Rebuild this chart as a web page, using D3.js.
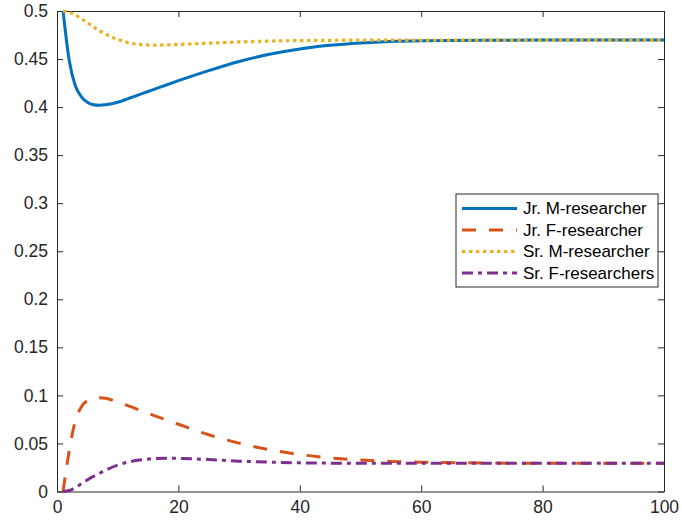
<!DOCTYPE html>
<html>
<head>
<meta charset="utf-8">
<script src="https://cdn.jsdelivr.net/npm/d3@7"></script>
<style>
  body { margin: 0; background: #fff; }
  svg { display: block; font-family: "Liberation Sans", Arial, sans-serif; }
</style>
</head>
<body>
<div id="chart"></div>
<script>
// time steps
const steps = [1, 2, 3, 4, 5, 6, 7, 8, 10, 12, 14, 16, 18, 20, 25, 30, 35, 40, 45, 50, 55, 60, 70, 80, 90, 100];

// series
const jrM = [0.5, 0.449, 0.4225, 0.411, 0.405, 0.4025, 0.402, 0.4025, 0.405, 0.4095, 0.414, 0.4185, 0.423, 0.4275,
  0.438, 0.4475, 0.455, 0.4605, 0.4643, 0.4668, 0.4683, 0.469, 0.4695, 0.4697, 0.4697, 0.4697];
const jrF = [0, 0.042, 0.073, 0.088, 0.0945, 0.097, 0.0975, 0.097, 0.093, 0.0885, 0.0837, 0.079, 0.0745, 0.07,
  0.059, 0.0503, 0.0435, 0.0385, 0.035, 0.0327, 0.0313, 0.0305, 0.0297, 0.0294, 0.0293, 0.0293];
const srM = [0.5, 0.4985, 0.496, 0.492, 0.488, 0.4835, 0.4795, 0.476, 0.4705, 0.4667, 0.465, 0.4645, 0.4647, 0.4652,
  0.4665, 0.4678, 0.4687, 0.4692, 0.4695, 0.4697, 0.4697, 0.4697, 0.4697, 0.4697, 0.4697, 0.4697];
const srF = [0, 0.001, 0.004, 0.008, 0.012, 0.0157, 0.019, 0.0222, 0.0275, 0.031, 0.033, 0.0343, 0.0347, 0.0345,
  0.0333, 0.0316, 0.0305, 0.0298, 0.0295, 0.0294, 0.0293, 0.0293, 0.0293, 0.0293, 0.0293, 0.0293];

const seriesNames = ['Jr. M-researcher', 'Jr. F-researcher', 'Sr. M-researcher', 'Sr. F-researchers'];
const xTicks = [0, 20, 40, 60, 80, 100];
const yTicks = [0, 0.05, 0.1, 0.15, 0.2, 0.25, 0.3, 0.35, 0.4, 0.45, 0.5];
const yTickLabels = ['0', '0.05', '0.1', '0.15', '0.2', '0.25', '0.3', '0.35', '0.4', '0.45', '0.5'];

const width = 682, height = 529;
const margin = { left: 57, top: 11, right: 18, bottom: 37.5 };
const w = width - margin.left - margin.right;
const h = height - margin.top - margin.bottom;
const axisColor = '#262626';

const svg = d3.select('#chart').append('svg')
  .attr('width', width)
  .attr('height', height);

const g = svg.append('g')
  .attr('transform', 'translate(' + margin.left + ',' + margin.top + ')');

const x = d3.scaleLinear().domain([0, 100]).range([0, w]);
const y = d3.scaleLinear().domain([0, 0.5]).range([h, 0]);

// box + ticks (inside, MATLAB style)
const styleAxis = sel => {
  sel.select('.domain').attr('stroke', axisColor).attr('stroke-width', 1);
  sel.selectAll('.tick line').attr('stroke', axisColor).attr('stroke-width', 1);
  sel.selectAll('.tick text').attr('fill', axisColor).style('font-size', '17.5px');
};

g.append('g')
  .attr('transform', 'translate(0,' + h + ')')
  .call(d3.axisBottom(x).tickValues(xTicks).tickSizeInner(-6).tickSizeOuter(0).tickPadding(9))
  .call(styleAxis);

g.append('g')
  .call(d3.axisLeft(y).tickValues(yTicks).tickFormat((d, i) => yTickLabels[i]).tickSizeInner(-6).tickSizeOuter(0).tickPadding(9))
  .call(styleAxis);

g.append('g')
  .call(d3.axisTop(x).tickValues(xTicks).tickFormat('').tickSizeInner(-6).tickSizeOuter(0))
  .call(styleAxis);

g.append('g')
  .attr('transform', 'translate(' + w + ',0)')
  .call(d3.axisRight(y).tickValues(yTicks).tickFormat('').tickSizeInner(-6).tickSizeOuter(0))
  .call(styleAxis);

g.selectAll('.tick text').attr('font-family', '"Liberation Sans", Arial, sans-serif');

// lines
const styles = [
  { color: '#0072BD', dash: null, width: 3 },
  { color: '#D95319', dash: '14,13', width: 3 },
  { color: '#EDB120', dash: '3.4,3.6', width: 3.2 },
  { color: '#7E2F8E', dash: '11,5,4,5', width: 3 }
];
const allSeries = [jrM, jrF, srM, srF];

const line = d3.line()
  .x(d => x(d[0]))
  .y(d => y(d[1]))
  .curve(d3.curveMonotoneX);

allSeries.forEach((vals, i) => {
  const pts = steps.map((t, k) => [t, vals[k]]);
  g.append('path')
    .datum(pts)
    .attr('fill', 'none')
    .attr('stroke', styles[i].color)
    .attr('stroke-width', styles[i].width)
    .attr('stroke-dasharray', styles[i].dash)
    .attr('d', line);
});

// legend
const lg = svg.append('g').attr('transform', 'translate(456,194)');
lg.append('rect')
  .attr('width', 202).attr('height', 93)
  .attr('fill', '#fff')
  .attr('stroke', axisColor).attr('stroke-width', 1);

seriesNames.forEach((name, i) => {
  const cy = 14.5 + i * 21.5;
  lg.append('line')
    .attr('x1', 6).attr('x2', 61)
    .attr('y1', cy).attr('y2', cy)
    .attr('stroke', styles[i].color)
    .attr('stroke-width', styles[i].width)
    .attr('stroke-dasharray', styles[i].dash);
  lg.append('text')
    .attr('x', 67).attr('y', cy)
    .attr('dy', '0.35em')
    .attr('fill', '#000')
    .style('font-size', '17px')
    .text(name);
});
</script>
</body>
</html>
